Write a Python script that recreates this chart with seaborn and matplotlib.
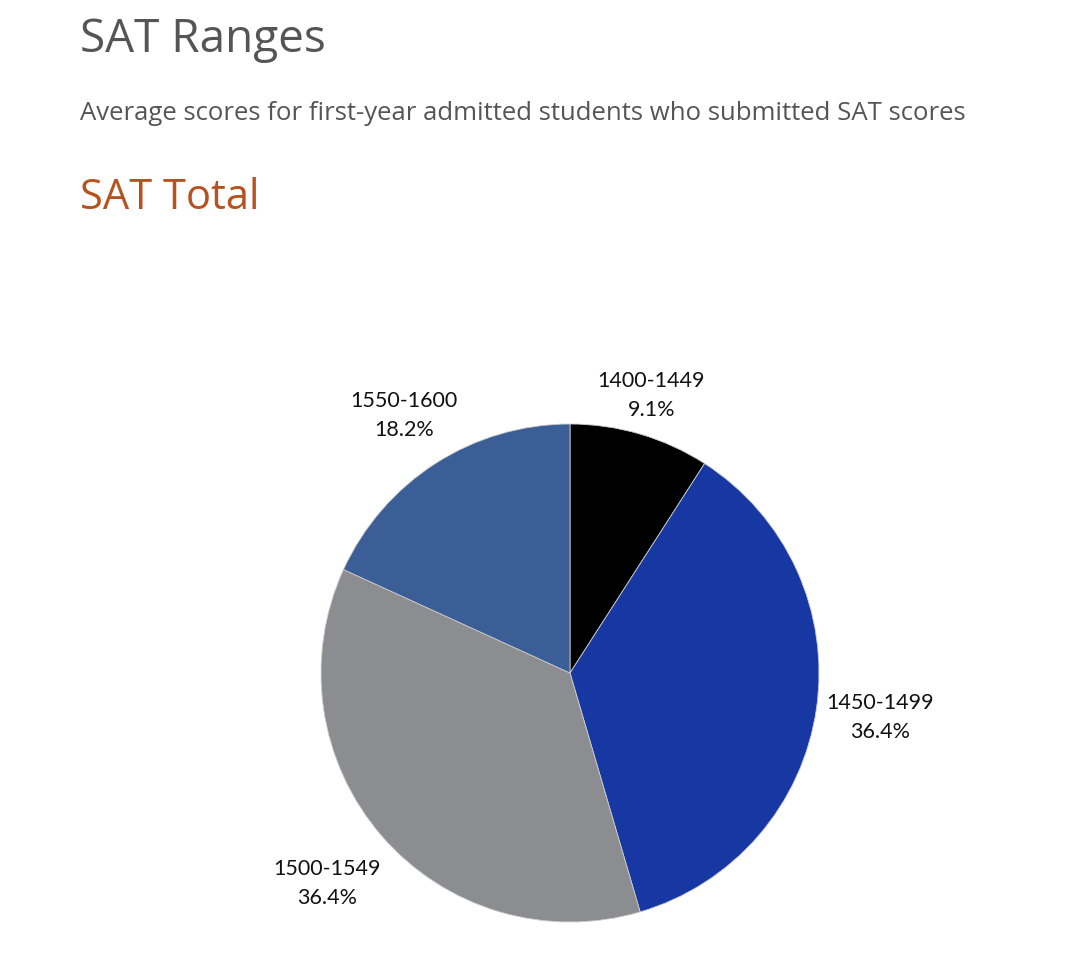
import numpy as np
import matplotlib
matplotlib.use("Agg")
import matplotlib.pyplot as plt
import seaborn as sns

categories = ["1400-1449", "1450-1499", "1500-1549", "1550-1600"]
percents = [9.1, 36.4, 36.4, 18.2]
pct_labels = ["9.1%", "36.4%", "36.4%", "18.2%"]
colors = ["#000000", "#1737A3", "#8C8D91", "#3A5E95"]
label_dist = [1.16, 1.26, 1.29, 1.23]

sns.set_theme(style="white")
plt.rcParams["font.family"] = ["Lato", "DejaVu Sans"]

W, H = 1080, 974
fig = plt.figure(figsize=(W / 100, H / 100), dpi=100)
fig.patch.set_facecolor("white")

# Header texts
fig.text(80 / W, 1 - 40 / H, "SAT Ranges", fontsize=33, color="#555555",
         va="center", ha="left", family=["Open Sans", "DejaVu Sans"])
fig.text(80 / W, 1 - 114 / H,
         "Average scores for first-year admitted students who submitted SAT scores",
         fontsize=18.5, color="#555555", va="center", ha="left",
         family=["Open Sans", "DejaVu Sans"])
fig.text(80 / W, 1 - 198 / H, "SAT Total", fontsize=30, color="#B5521F",
         va="center", ha="left", family=["Open Sans", "DejaVu Sans"])

# Pie axes: center (570, 673), radius 249 px
cx, cy, r = 570, 673, 249
half = 320
ax = fig.add_axes([(cx - half) / W, (H - cy - half) / H, 2 * half / W, 2 * half / H])
lim = half / r

wedges, _ = ax.pie(percents, colors=colors, startangle=90, counterclock=False,
                   radius=1.0, wedgeprops=dict(linewidth=0.6, edgecolor="#cccccc"))
ax.set_xlim(-lim, lim)
ax.set_ylim(-lim, lim)
ax.set_aspect("equal")
ax.axis("off")

for w, cat, pl, d in zip(wedges, categories, pct_labels, label_dist):
    th = np.deg2rad((w.theta1 + w.theta2) / 2)
    ax.text(d * np.cos(th), d * np.sin(th), f"{cat}\n{pl}", ha="center", va="center",
            fontsize=15.5, color="#111111", linespacing=1.55,
            family=["Lato", "DejaVu Sans"])

fig.savefig("out.png", dpi=100, facecolor="white")
